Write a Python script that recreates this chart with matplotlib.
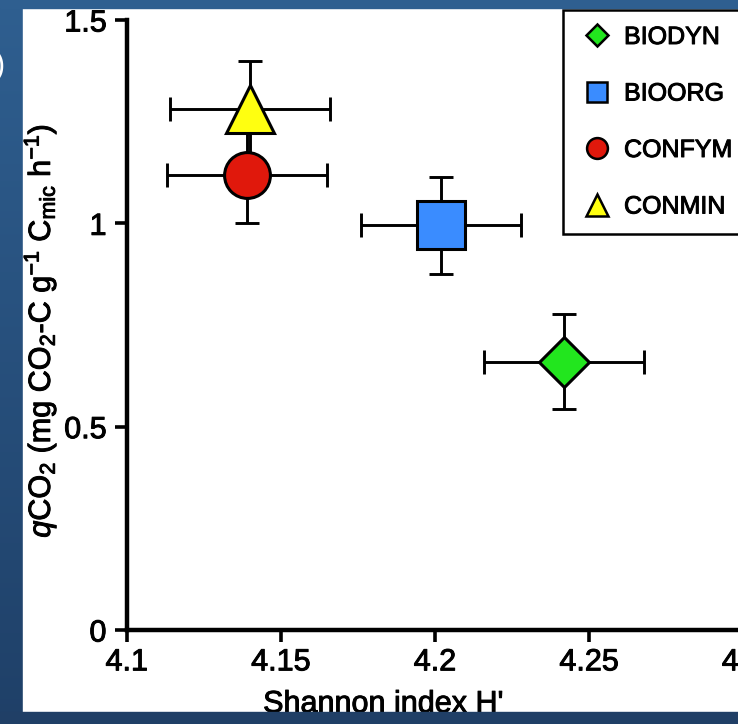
import matplotlib.pyplot as plt
import matplotlib.patheffects as pe
import numpy as np
from matplotlib.lines import Line2D
from matplotlib.patches import Rectangle

plt.rcParams["font.family"] = ["Liberation Sans", "DejaVu Sans"]
plt.rcParams["mathtext.fontset"] = "custom"
plt.rcParams["mathtext.rm"] = "Liberation Sans"
plt.rcParams["mathtext.it"] = "Liberation Sans:italic"

# data
treatments = ["BIODYN", "BIOORG", "CONFYM", "CONMIN"]
shannon = [4.242, 4.202, 4.139, 4.140]
shannon_err = [0.026, 0.026, 0.026, 0.026]
qco2 = [0.66, 0.995, 1.12, 1.28]
qco2_err = [0.117, 0.12, 0.12, 0.12]

markers = ["D", "s", "o", "^"]
colors = ["#22e61e", "#3a8cff", "#e0180c", "#ffff10"]
sizes = [25.5, 35, 33, 35]
legend_sizes = [11, 15, 15, 16]

W, H = 738, 724
heavy = [pe.withStroke(linewidth=0.7, foreground="black")]

fig = plt.figure(figsize=(W / 100, H / 100), dpi=100)

# blue slide background with a vertical gradient
bg = fig.add_axes([0, 0, 1, 1], zorder=-10)
grad = np.linspace(0, 1, 256).reshape(-1, 1)
top = np.array([0x2f, 0x5f, 0x90]) / 255
bot = np.array([0x1f, 0x40, 0x68]) / 255
img = top + (bot - top) * grad[:, :, None]
bg.imshow(img, aspect="auto", extent=[0, 1, 0, 1])
bg.add_patch(Rectangle((23 / W, 12 / H), 1, 1 - 20 / H, color="white"))
bg.set_axis_off()
fig.text(5 / W, 1 - 66 / H, "b)", color="white", fontsize=22, ha="right", va="center")

ax = fig.add_axes([126.7 / W, 94 / H, (743 - 126.7) / W, 610 / H])
ax.patch.set_alpha(0)

ax.errorbar(shannon, qco2, xerr=shannon_err, yerr=qco2_err, fmt="none",
            ecolor="black", elinewidth=2.1, capsize=8.5, capthick=2.1, zorder=2)
for i in [0, 1, 2, 3]:
    ax.plot(shannon[i], qco2[i], linestyle="none", marker=markers[i], markersize=sizes[i],
            markerfacecolor=colors[i], markeredgecolor="black", markeredgewidth=2.2, zorder=3)

ax.set_xlim(4.1, 4.3)
ax.set_ylim(0, 1.5)
ax.set_xticks([4.1, 4.15, 4.2, 4.25, 4.3])
ax.set_xticklabels(["4.1", "4.15", "4.2", "4.25", "4.3"])
ax.set_yticks([0, 0.5, 1, 1.5])
ax.set_yticklabels(["0", "0.5", "1", "1.5"])
ax.tick_params(direction="out", length=8.5, width=2.6, labelsize=22, pad=4)
ax.tick_params(axis="y", pad=6)
for s in ["top", "right"]:
    ax.spines[s].set_visible(False)
for s in ["left", "bottom"]:
    ax.spines[s].set_linewidth(3.2)
for lab in ax.get_xticklabels() + ax.get_yticklabels():
    lab.set_path_effects(heavy)

ax.set_ylabel(r"$q$CO$_2$ (mg CO$_2$-C g$^{-1}$ C$_{\mathrm{mic}}$ h$^{-1}$)", fontsize=22,
              va="center", path_effects=heavy)
ax.yaxis.set_label_coords((40 - 126.7) / 616.3, 0.49)
ax.set_xlabel("Shannon index H'", fontsize=22, path_effects=heavy)
ax.xaxis.set_label_coords((383 - 126.7) / 616.3, -0.097)

handles = [Line2D([], [], linestyle="none", marker=markers[i], markersize=legend_sizes[i],
                  markerfacecolor=colors[i], markeredgecolor="black", markeredgewidth=1.8)
           for i in range(4)]
leg = fig.legend(handles, treatments, loc="upper left", bbox_to_anchor=(563 / W, 1 - 10 / H),
                 borderaxespad=0, fontsize=18, frameon=True, fancybox=False, framealpha=1,
                 edgecolor="black", handlelength=1.5, handletextpad=0.34, labelspacing=1.3,
                 borderpad=0.6)
leg.get_frame().set_linewidth(1.8)
for t in leg.get_texts():
    t.set_path_effects(heavy)

# blue border strips cover the cropped edges
fig.add_artist(Rectangle((0, 0), 1, 12 / H, transform=fig.transFigure,
                         color="#203f66", zorder=20))
fig.add_artist(Rectangle((0, 1 - 8 / H), 1, 8 / H, transform=fig.transFigure,
                         color="#2f5f90", zorder=20))

fig.savefig("out.png", dpi=100)
